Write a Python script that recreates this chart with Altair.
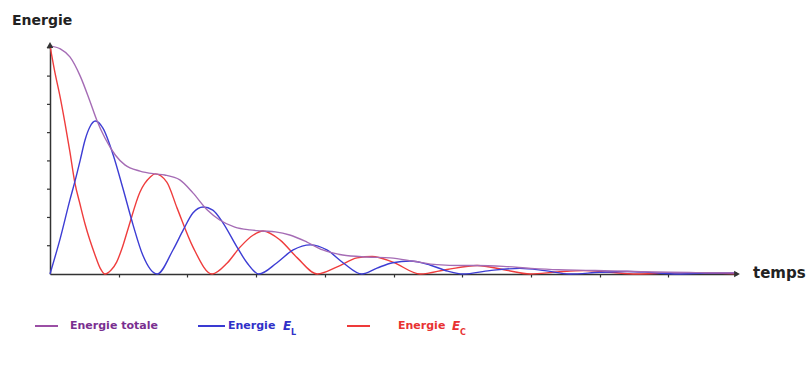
import altair as alt
import pandas as pd

# ---- data (t = time units, one x tick = 1; v = energy units, one y tick = 1)
t_tot = [0, 0.15, 0.29, 0.44, 0.58, 0.68, 0.80, 0.95, 1.09, 1.31, 1.53, 1.67, 1.89, 2.08, 2.29, 2.47,
         2.69, 2.91, 3.09, 3.28, 3.49, 3.74, 3.97, 4.26, 4.61, 4.95, 5.30, 5.63, 6.00, 6.20, 6.60,
         7.00, 7.40, 7.80, 8.20, 8.60, 9.00, 9.40, 10.0]
v_tot = [8.07, 7.96, 7.68, 7.00, 6.12, 5.45, 4.81, 4.21, 3.86, 3.64, 3.54, 3.50, 3.33, 2.87, 2.26, 1.91,
         1.66, 1.56, 1.52, 1.49, 1.38, 1.13, 0.85, 0.67, 0.60, 0.57, 0.45, 0.33, 0.30, 0.30, 0.27,
         0.20, 0.15, 0.13, 0.11, 0.08, 0.06, 0.05, 0.04]

t_el = [0, 0.15, 0.29, 0.36, 0.44, 0.51, 0.58, 0.66, 0.77, 0.92, 1.06, 1.21, 1.35, 1.56, 1.79, 1.94,
        2.08, 2.23, 2.37, 2.52, 2.72, 2.87, 3.04, 3.30, 3.54, 3.79, 4.03, 4.27, 4.54, 4.76, 4.99,
        5.24, 5.53, 5.79, 6.01, 6.40, 6.84, 7.20, 7.57, 8.00, 8.40, 8.76, 9.13, 9.53, 10.0]
v_el = [0, 1.27, 2.62, 3.25, 4.03, 4.74, 5.20, 5.41, 5.16, 4.21, 3.04, 1.73, 0.67, 0, 0.85, 1.56,
        2.16, 2.37, 2.26, 1.80, 0.96, 0.39, 0, 0.39, 0.85, 1.03, 0.85, 0.39, 0, 0.21, 0.40,
        0.46, 0.32, 0.10, 0, 0.12, 0.20, 0.12, 0, 0.06, 0.09, 0.05, 0, 0.03, 0.04]

t_ec = [0, 0.07, 0.15, 0.22, 0.29, 0.36, 0.44, 0.51, 0.58, 0.65, 0.73, 0.80, 0.89, 0.97, 1.05, 1.14,
        1.31, 1.46, 1.53, 1.70, 1.85, 2.08, 2.36, 2.58, 2.77, 2.96, 3.10, 3.35, 3.60, 3.89, 4.18,
        4.47, 4.69, 4.99, 5.39, 5.78, 6.22, 6.61, 6.99, 7.38, 7.77, 8.15, 8.54, 8.94, 9.32, 9.68, 10.0]
v_ec = [8.07, 7.15, 6.23, 5.31, 4.32, 3.25, 2.44, 1.77, 1.20, 0.71, 0.21, 0, 0.14, 0.42, 0.92, 1.63,
        2.90, 3.43, 3.54, 3.25, 2.33, 0.96, 0, 0.39, 0.96, 1.38, 1.52, 1.20, 0.57, 0, 0.25,
        0.57, 0.62, 0.42, 0, 0.16, 0.30, 0.15, 0, 0.07, 0.12, 0.06, 0, 0.03, 0.05, 0.03, 0.01]

x_ticks = [1, 2, 3, 4, 5, 6, 7, 8, 9]
y_ticks = [1, 2, 3, 4, 5, 6, 7, 8]
X_MAX = 10
Y_MAX = 8.1

series = ["Energie totale", "Energie E_L", "Energie E_C"]
colors = ["#a56cb5", "#3d3dd4", "#ef3d3d"]

df = pd.concat([
    pd.DataFrame({"t": t_ec, "v": v_ec, "serie": series[2]}),
    pd.DataFrame({"t": t_el, "v": v_el, "serie": series[1]}),
    pd.DataFrame({"t": t_tot, "v": v_tot, "serie": series[0]}),
])

AX = "#333333"
xscale = alt.Scale(domain=[0, X_MAX], nice=False, zero=True)
yscale = alt.Scale(domain=[0, Y_MAX], nice=False, zero=True)
color = alt.Color("serie:N", scale=alt.Scale(domain=series, range=colors), legend=None)

def line_layer(name):
    return alt.Chart(df[df["serie"] == name]).mark_line(
        interpolate="monotone", strokeWidth=1.4
    ).encode(
        x=alt.X("t:Q", scale=xscale,
                axis=alt.Axis(values=x_ticks, labels=False, title=None, grid=False,
                              tickSize=3, tickWidth=1.2, tickColor=AX, domainColor=AX, domainWidth=1.5)),
        y=alt.Y("v:Q", scale=yscale,
                axis=alt.Axis(values=y_ticks, labels=False, title=None, grid=False, ticks=False,
                              domainColor=AX, domainWidth=1.5)),
        color=color,
    )

lines = line_layer(series[2]) + line_layer(series[1]) + line_layer(series[0])

# y-axis tick marks drawn as short rules
yt = alt.Chart(pd.DataFrame({"v": y_ticks})).mark_rule(color=AX, strokeWidth=1.2).encode(
    y=alt.Y("v:Q", scale=yscale), x=alt.value(-3), x2=alt.value(0))

arrows = pd.DataFrame({"t": [X_MAX, 0], "v": [0, Y_MAX], "shape": ["triangle-right", "triangle-up"]})
arrow_layer = alt.Chart(arrows).mark_point(filled=True, size=45, color=AX, opacity=1).encode(
    x=alt.X("t:Q", scale=xscale), y=alt.Y("v:Q", scale=yscale),
    shape=alt.Shape("shape:N", scale=None),
)

FONT = "DejaVu Sans"

def txt(text, x, y, size, col, style="normal", weight="bold", align="left", baseline="middle"):
    return alt.Chart(pd.DataFrame({"a": [0]})).mark_text(
        text=text, font=FONT, fontSize=size, fontWeight=weight, fontStyle=style,
        color=col, align=align, baseline=baseline
    ).encode(x=alt.value(x), y=alt.value(y))

def seg(x1, x2, y, col):
    return alt.Chart(pd.DataFrame({"a": [0]})).mark_rule(color=col, strokeWidth=2).encode(
        x=alt.value(x1), x2=alt.value(x2), y=alt.value(y))

labels = (
    txt("Energie", -38, -24, 14, "#222222")
    + txt("temps", 703, 228, 15, "#222222")
    + seg(-15, 8, 281, "#9b4fa5")
    + txt("Energie totale", 20, 281, 11, "#7a2f90")
    + seg(148, 175, 281, "#3a3ad2")
    + txt("Energie", 178, 281, 11, "#3030c8")
    + txt("E", 233, 281, 12, "#3030c8", style="italic")
    + txt("L", 241, 288, 8, "#3030c8")
    + seg(297, 320, 281, "#ee3a3a")
    + txt("Energie", 348, 281, 11, "#e83232")
    + txt("E", 402, 281, 12, "#e83232", style="italic")
    + txt("C", 410, 288, 8, "#e83232")
)

chart = alt.layer(lines, yt, arrow_layer, labels).properties(
    width=687, height=229,
    autosize=alt.AutoSizeParams(type="none"),
    padding={"left": 50, "top": 45, "right": 73, "bottom": 93},
    background="white",
).configure_view(stroke=None)

chart.save("out.html", embed_options={"renderer": "svg", "actions": False})
